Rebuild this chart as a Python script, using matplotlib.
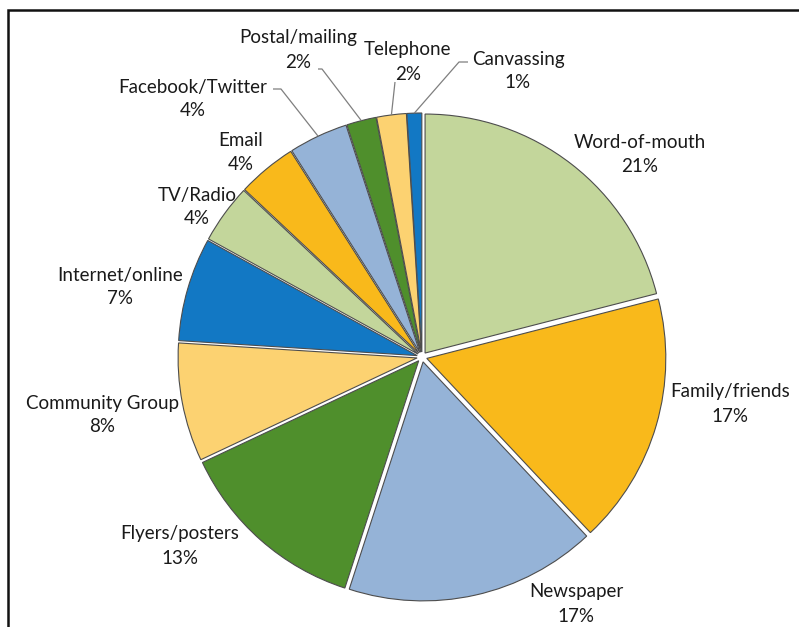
import matplotlib.pyplot as plt
import numpy as np

plt.rcParams['font.family'] = ['Lato', 'DejaVu Sans']

# survey answers, clockwise from 12 o'clock
sources = ["Word-of-mouth", "Family/friends", "Newspaper", "Flyers/posters",
           "Community Group", "Internet/online", "TV/Radio", "Email",
           "Facebook/Twitter", "Postal/mailing", "Telephone", "Canvassing"]
shares = [21, 17, 17, 13, 8, 7, 4, 4, 4, 2, 2, 1]

palette = ["#C3D69B", "#F9B91B", "#95B3D7", "#4F8F2C", "#FCD271", "#1278C4"]
colors = [palette[i % len(palette)] for i in range(len(shares))]

# label anchor points in pixel space (x, y from top)
label_pos = [(640, 155), (730, 404), (576, 604), (180, 546), (102, 415),
             (120, 287), (197, 207), (241, 152), (193, 99), (298, 50),
             (408, 62), (518, 71)]
# where the leader line leaves the label (None = no leader)
leader_start = [None] * 8 + [(273, 89), (318, 69), (395, 82), (468, 62)]
leader_knee = [None] * 8 + [(281, 89), (322, 69), (395, 82), (459, 62)]

W, H = 799, 627
cx, cy, radius = 422, 357, 239

fig = plt.figure(figsize=(W / 100, H / 100), dpi=100)
ax = fig.add_axes([0, 0, 1, 1])

# pie explode is in data units here (pixels)
explode = [5.0] * len(shares)
wedges, _ = ax.pie(shares, colors=colors, startangle=90, counterclock=False,
                   center=(cx, H - cy), radius=radius, explode=explode,
                   wedgeprops=dict(edgecolor='#4d4d4d', linewidth=0.8),
                   frame=True)
ax.set_xlim(0, W)
ax.set_ylim(0, H)
ax.axis('off')

for i, w in enumerate(wedges):
    lx, ly = label_pos[i]
    ax.text(lx, H - ly, f"{sources[i]}\n{shares[i]}%", ha='center', va='center',
            fontsize=13.5, color='#1a1a1a', linespacing=1.5)
    if leader_start[i] is not None:
        mid = np.deg2rad((w.theta1 + w.theta2) / 2)
        ex = w.center[0] + w.r * np.cos(mid)
        ey = w.center[1] + w.r * np.sin(mid)
        sx, sy = leader_start[i]
        kx, ky = leader_knee[i]
        ax.plot([sx, kx, ex], [H - sy, H - ky, ey], color='#7f7f7f', lw=0.9,
                solid_capstyle='butt')

# chart border (top and left edges)
ax.plot([8, 8, W], [0, H - 10, H - 10], color='#111111', lw=1.8,
        solid_joinstyle='miter')

fig.savefig("out.png", dpi=100)
